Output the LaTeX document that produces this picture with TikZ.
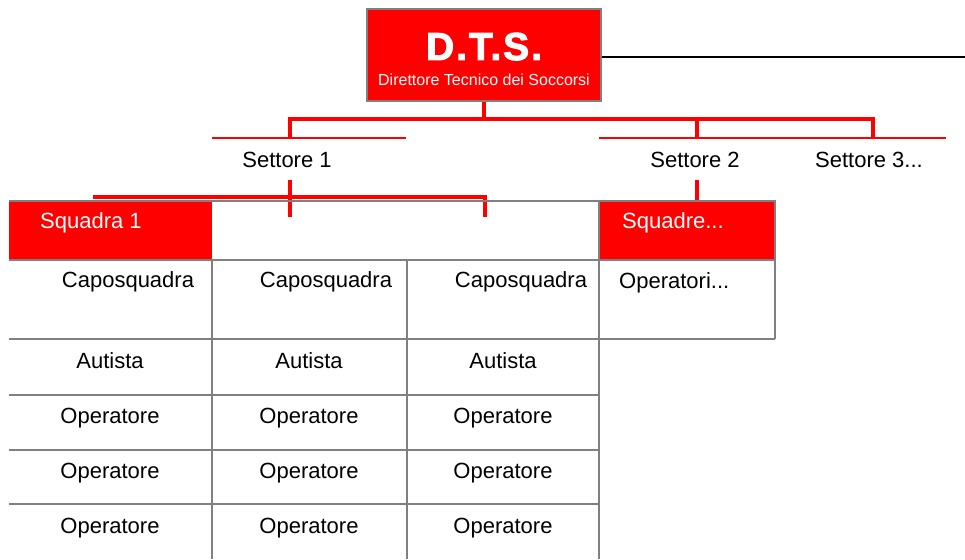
\documentclass[tikz,border=0pt]{standalone}
\usepackage{fontspec}
\setmainfont{Liberation Sans}
\newfontfamily\heavyfont[BoldFont={Liberation Sans Bold}, BoldFeatures={FakeBold=2.5, LetterSpace=5}]{Liberation Sans}
\definecolor{dtsred}{RGB}{255,0,0}
\definecolor{rulegray}{RGB}{128,128,128}
\begin{document}
\begin{tikzpicture}[x=1pt, y=-1pt,
  every node/.style = {inner sep=0pt, anchor=base,
    font=\fontsize{22}{26}\selectfont},
  dtsbox/.style = {draw=rulegray, line width=1.6pt, fill=dtsred,
    minimum width=234pt, minimum height=92pt, anchor=center},
  redbar/.style = {draw=dtsred, line width=4pt},
  redrule/.style = {draw=dtsred, line width=2pt},
  grid/.style = {draw=rulegray, line width=2pt},
  teamhead/.style = {text=white, anchor=base west}]
  \useasboundingbox (0,0) rectangle (965,559);
  \node[dtsbox] (dts) at (484,55) {};
  \node[text=white, font=\fontsize{39}{40}\selectfont\heavyfont\bfseries] (dtsname) at (484,60) {D.T.S.};
  \node[text=white, font=\fontsize{16}{18}\selectfont] (dtstitle) at (484,86) {Direttore Tecnico dei Soccorsi};
  \coordinate (rim) at (965,57);
  \draw[line width=1.6pt] (dts.east |- rim) -- (rim);
  \node (set1) at (287,167) {Settore 1};
  \node (set2) at (695,167) {Settore 2};
  \node[anchor=base west] (set3) at (815,167) {Settore 3...};
  \coordinate (top1) at (290,138);
  \coordinate (top2) at (697,138);
  \coordinate (top3) at (873,138);
  \draw[redbar] (dts.south) -- (dts.south |- 0,119);
  \draw[redbar] (top1) -- ++(0,-19) -| (top3);
  \draw[redbar] (top2) -- ++(0,-19);
  \draw[redrule] (212,138) -- (406,138);
  \draw[redrule] (599,138) -- (946,138);
  \fill[dtsred] (9,201) rectangle (212,260);
  \fill[dtsred] (599,201) rectangle (775,260);
  \coordinate (drop1) at (290,180);
  \coordinate (drop2) at (697,180);
  \draw[redbar] (drop1) -- (290,217);
  \draw[redbar] (95,199) -- (95,197) -- (485,197) -- (485,217);
  \draw[redbar] (drop2) -- (697,201);
  \draw[grid] (9,201) -- (775,201) -- (775,339);
  \draw[grid] (9,260) -- (775,260);
  \draw[grid] (9,339) -- (775,339);
  \foreach \yy in {395,450,504}
    \draw[grid] (9,\yy) -- (599,\yy);
  \draw[grid] (212,260) -- (212,559);
  \draw[grid] (407,260) -- (407,559);
  \draw[grid] (599,201) -- (599,559);
  \node[teamhead] (team1) at (40,228) {Squadra 1};
  \node[teamhead] (teams) at (622,228) {Squadre...};
  \node[anchor=base west] (ops) at (619,288) {Operatori...};
  \foreach \cx/\kx [count=\i] in {110/128, 309/326, 503/521} {
    \node (capo\i) at (\kx,287) {Caposquadra};
    \node (driver\i) at (\cx,368) {Autista};
    \foreach \yy [count=\r] in {423,478,533}
      \node (op\i\r) at (\cx,\yy) {Operatore};
  }
\end{tikzpicture}
\end{document}
